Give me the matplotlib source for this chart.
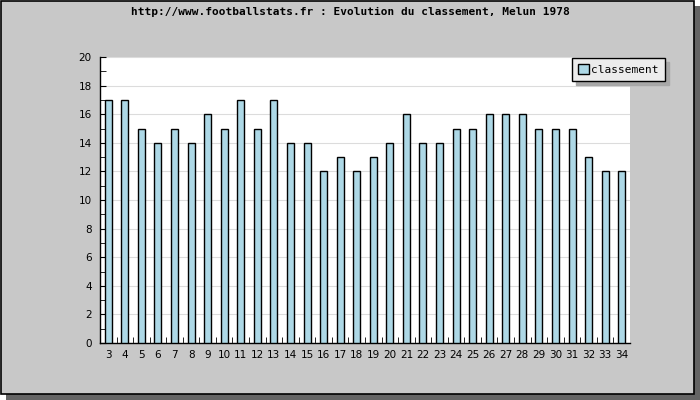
import matplotlib
matplotlib.use('Agg')
import matplotlib.pyplot as plt
from matplotlib.patches import Rectangle

# journées et classement de Melun, saison 1978
journees = [3, 4, 5, 6, 7, 8, 9, 10, 11, 12, 13, 14, 15, 16, 17, 18,
            19, 20, 21, 22, 23, 24, 25, 26, 27, 28, 29, 30, 31, 32, 33, 34]
classement = [17, 17, 15, 14, 15, 14, 16, 15, 17, 15, 17, 14, 14, 12, 13, 12,
              13, 14, 16, 14, 14, 15, 15, 16, 16, 16, 15, 15, 15, 13, 12, 12]
y_ticks = [0, 2, 4, 6, 8, 10, 12, 14, 16, 18, 20]

W, H = 700, 400
fig = plt.figure(figsize=(7, 4), dpi=100, facecolor='white')

# cadre gris avec ombre portée
fig.patches.append(Rectangle((6 / W, 0), 694 / W, 394 / H, transform=fig.transFigure,
                             facecolor='#646464', edgecolor='none', zorder=-2))
fig.patches.append(Rectangle((0.5 / W, 6 / H), 693 / W, 393.5 / H, transform=fig.transFigure,
                             facecolor='#c8c8c8', edgecolor='black', lw=1.2, zorder=-1))

fig.text(350 / W, 1 - 12 / H, 'http://www.footballstats.fr : Evolution du classement, Melun 1978',
         ha='center', va='center', fontsize=8, fontweight='bold', family='DejaVu Sans Mono')

ax = fig.add_axes([100 / W, 57 / H, 530 / W, 286 / H])
ax.set_facecolor('white')
x = list(range(len(journees)))
ax.bar(x, classement, width=0.42, color='#add8e6', edgecolor='black', lw=1,
       label='classement', zorder=3)

ax.set_xlim(-0.5, len(journees) - 0.5)
ax.set_ylim(0, 20)
ax.set_yticks(y_ticks)
ax.set_yticks(range(0, 21), minor=True)
ax.yaxis.grid(True, color='#dcdcdc', lw=0.8, zorder=0)
ax.set_xticks(x)
ax.set_xticklabels([str(j) for j in journees])
ax.set_xticks([i + 0.5 for i in x[:-1]], minor=True)
ax.tick_params(axis='x', which='major', length=0, labelsize=7.5, pad=5)
ax.tick_params(axis='x', which='minor', direction='in', length=4)
ax.tick_params(axis='y', which='both', direction='in', length=4, labelsize=7.5, pad=6)
for side in ['top', 'right']:
    ax.spines[side].set_visible(False)
for side in ['left', 'bottom']:
    ax.spines[side].set_linewidth(1)

leg = ax.legend(loc='upper right', bbox_to_anchor=(665 / W, 1 - 58 / H),
                bbox_transform=fig.transFigure, fancybox=False,
                shadow={'color': '#a8a8a8', 'alpha': 1, 'ox': 3, 'oy': -3},
                framealpha=1, handlelength=1.0, handleheight=1.0, handletextpad=0.2,
                borderpad=0.55, borderaxespad=0,
                prop={'family': 'DejaVu Sans Mono', 'size': 8})
leg.get_frame().set_facecolor('#ececec')
leg.get_frame().set_edgecolor('black')

fig.savefig('out.png', dpi=100)
